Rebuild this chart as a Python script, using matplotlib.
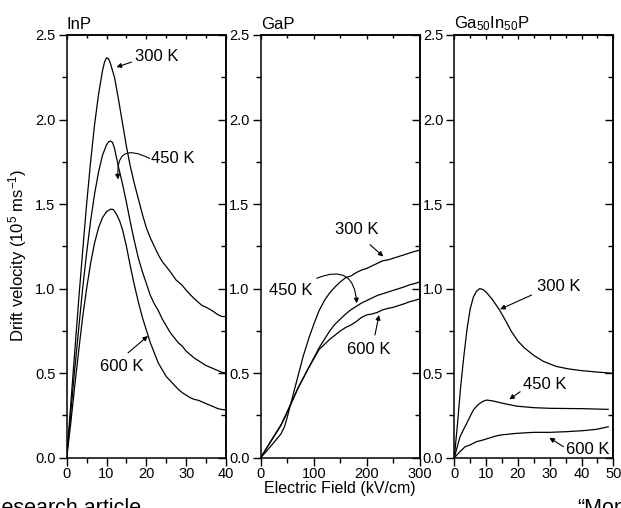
import numpy as np
import matplotlib
matplotlib.use("Agg")
import matplotlib.pyplot as plt
from matplotlib.ticker import MultipleLocator, FormatStrFormatter

plt.rcParams['font.family'] = ['Liberation Sans', 'DejaVu Sans']
plt.rcParams['mathtext.fontset'] = 'custom'
plt.rcParams['mathtext.rm'] = 'Liberation Sans'
plt.rcParams['mathtext.it'] = 'Liberation Sans:italic'
plt.rcParams['mathtext.bf'] = 'Liberation Sans:bold'

# InP, field in kV/cm, drift velocity in 1e5 m/s
inp_e_300 = [0, 1, 2, 3, 4, 5, 6, 7, 8, 9, 9.5, 10, 10.5, 11, 12, 13, 14, 15, 16, 17, 18, 19, 20,
             21, 22, 23, 24, 25, 26, 27.5, 29, 30, 31, 32.5, 34, 35, 36.5, 38, 39, 40]
inp_v_300 = [0, 0.31, 0.62, 0.93, 1.22, 1.5, 1.75, 1.97, 2.15, 2.29, 2.34, 2.365, 2.36, 2.33, 2.25,
             2.12, 1.98, 1.84, 1.72, 1.62, 1.53, 1.44, 1.36, 1.3, 1.25, 1.2, 1.16, 1.13, 1.1, 1.05,
             1.02, 0.99, 0.965, 0.93, 0.9, 0.89, 0.87, 0.845, 0.835, 0.835]
inp_e_450 = [0, 1, 2, 3, 4, 5, 6, 7, 8, 9, 10, 10.5, 11, 11.5, 12, 13, 14, 15, 16, 17, 18, 19, 20,
             21, 22, 23, 24, 25, 26, 27, 28, 29, 30, 31, 32, 33, 34, 35, 36, 37, 38, 39, 40]
inp_v_450 = [0, 0.26, 0.52, 0.76, 1.0, 1.21, 1.4, 1.56, 1.69, 1.79, 1.85, 1.868, 1.873, 1.865, 1.83,
             1.72, 1.62, 1.51, 1.39, 1.28, 1.18, 1.1, 1.03, 0.96, 0.91, 0.87, 0.82, 0.78, 0.74, 0.71,
             0.68, 0.66, 0.63, 0.61, 0.59, 0.575, 0.56, 0.545, 0.535, 0.525, 0.515, 0.505, 0.5]
inp_e_600 = [0, 1, 2, 3, 4, 5, 6, 7, 8, 9, 10, 11, 11.7, 12.5, 13.3, 14, 15, 16, 17, 18, 19, 20,
             21, 22, 23, 24, 25, 26, 27, 28, 29, 30, 31, 32, 33, 34, 35, 36, 37, 38, 39, 40]
inp_v_600 = [0, 0.2, 0.42, 0.63, 0.83, 1.0, 1.15, 1.27, 1.36, 1.42, 1.455, 1.47, 1.468, 1.44, 1.4,
             1.35, 1.25, 1.13, 1.02, 0.92, 0.83, 0.755, 0.68, 0.62, 0.56, 0.52, 0.48, 0.455, 0.43,
             0.405, 0.385, 0.37, 0.355, 0.345, 0.34, 0.33, 0.32, 0.31, 0.3, 0.29, 0.285, 0.282]

# GaP
gap_e = [0, 10, 20, 30, 38, 45, 50, 60, 70, 80, 90, 100, 110, 120, 130, 140, 150, 160, 170, 180,
         190, 200, 210, 220, 230, 240, 250, 260, 270, 280, 290, 300]
gap_v_300 = [0, 0.035, 0.072, 0.11, 0.14, 0.185, 0.24, 0.36, 0.48, 0.6, 0.7, 0.79, 0.87, 0.93,
             0.975, 1.01, 1.04, 1.065, 1.075, 1.095, 1.11, 1.12, 1.135, 1.15, 1.165, 1.17, 1.18,
             1.19, 1.2, 1.21, 1.22, 1.228]
gap_v_450 = [0, 0.05, 0.1, 0.15, 0.19, 0.235, 0.27, 0.34, 0.41, 0.47, 0.53, 0.59, 0.65, 0.7,
             0.75, 0.79, 0.82, 0.85, 0.875, 0.895, 0.915, 0.93, 0.945, 0.96, 0.97, 0.98, 0.99,
             1.0, 1.01, 1.022, 1.03, 1.04]
gap_v_600 = [0, 0.052, 0.103, 0.153, 0.193, 0.238, 0.272, 0.34, 0.41, 0.47, 0.53, 0.585, 0.64,
             0.67, 0.7, 0.725, 0.75, 0.77, 0.785, 0.805, 0.83, 0.845, 0.85, 0.86, 0.875, 0.883,
             0.89, 0.9, 0.91, 0.922, 0.93, 0.94]

# Ga50In50P
gainp_e_300 = [0, 1, 2, 3, 4, 5, 6, 7, 8, 9, 10, 12, 14, 16, 18, 20, 22, 25, 28, 32, 36, 40, 44, 48, 50]
gainp_v_300 = [0, 0.2, 0.42, 0.6, 0.76, 0.88, 0.95, 0.985, 1.0, 0.995, 0.98, 0.935, 0.88, 0.815,
               0.745, 0.69, 0.65, 0.605, 0.57, 0.54, 0.525, 0.515, 0.508, 0.502, 0.498]
gainp_e_450 = [0, 1, 1.8, 3, 3.9, 5, 6, 7, 8, 9, 10.2, 12.3, 15.4, 19.6, 24.9, 30.1, 35, 40.6, 44, 48.4]
gainp_v_450 = [0, 0.07, 0.124, 0.17, 0.203, 0.245, 0.282, 0.305, 0.321, 0.333, 0.341, 0.335,
               0.321, 0.305, 0.296, 0.292, 0.291, 0.29, 0.288, 0.286]
gainp_e_600 = [0, 1.8, 3.4, 4.9, 7.0, 9.1, 12.3, 14.4, 19.6, 24.9, 30.1, 35.3, 40.6, 44.8, 48.4]
gainp_v_600 = [0, 0.036, 0.065, 0.075, 0.095, 0.105, 0.124, 0.134, 0.144, 0.15, 0.15, 0.154,
               0.16, 0.168, 0.183]

titles = ["InP", "GaP", r"Ga$_{\mathregular{50}}$In$_{\mathregular{50}}$P"]
xlims = [40, 300, 50]
xmajor = [10, 100, 10]
xminor = [5, 50, 5]

series = [
    [(inp_e_300, inp_v_300), (inp_e_450, inp_v_450), (inp_e_600, inp_v_600)],
    [(gap_e, gap_v_300), (gap_e, gap_v_450), (gap_e, gap_v_600)],
    [(gainp_e_300, gainp_v_300), (gainp_e_450, gainp_v_450), (gainp_e_600, gainp_v_600)],
]

# label text position, arrow tail, arrow head, arc curvature
labels = [
    [("300 K", (22.7, 2.375), (16.3, 2.34), (12.5, 2.31), 0.0),
     ("450 K", (26.6, 1.77), (20.8, 1.77), (12.9, 1.646), 0.9),
     ("600 K", (13.9, 0.54), (15.4, 0.62), (20.4, 0.72), 0.0)],
    [("300 K", (180.8, 1.347), (205.8, 1.26), (230.9, 1.19), 0.0),
     ("450 K", (56.7, 0.99), (105.5, 1.061), (180.8, 0.913), -0.7),
     ("600 K", (204.3, 0.637), (215.2, 0.726), (222.8, 0.844), 0.0)],
    [("300 K", (32.7, 1.011), (24.3, 0.962), (14.4, 0.878), 0.0),
     ("450 K", (28.5, 0.43), (20.7, 0.39), (17.3, 0.345), 0.0),
     ("600 K", (41.9, 0.05), (34.3, 0.065), (29.9, 0.118), 0.0)],
]

fig = plt.figure(figsize=(6.21, 5.08), dpi=100)
lefts = [66.7, 260.7, 454.3]
widths = [159.3, 159.3, 159.0]
bottom = 1 - 457.7 / 508
height = (457.7 - 35.0) / 508

for i in range(3):
    ax = fig.add_axes([lefts[i] / 621, bottom, widths[i] / 621, height])
    for e, v in series[i]:
        ax.plot(e, v, color="black", lw=0.9)
    ax.set_xlim(0, xlims[i])
    ax.set_ylim(0, 2.5)
    ax.xaxis.set_major_locator(MultipleLocator(xmajor[i]))
    ax.xaxis.set_minor_locator(MultipleLocator(xminor[i]))
    ax.yaxis.set_major_locator(MultipleLocator(0.5))
    ax.yaxis.set_minor_locator(MultipleLocator(0.25))
    ax.yaxis.set_major_formatter(FormatStrFormatter("%.1f"))
    ax.tick_params(which="both", direction="out", labelsize=10.5, width=1.0, pad=2,
                   top=False, right=False)
    ax.tick_params(axis="x", which="both", pad=0.5)
    ax.tick_params(which="major", length=6)
    ax.tick_params(which="minor", length=3.5)
    # inward ticks on the top and right edges
    sec_x = ax.secondary_xaxis("top")
    sec_x.xaxis.set_major_locator(MultipleLocator(xmajor[i]))
    sec_x.xaxis.set_minor_locator(MultipleLocator(xminor[i]))
    sec_x.tick_params(which="both", direction="in", labeltop=False, width=1.0)
    sec_x.tick_params(which="major", length=3)
    sec_x.tick_params(which="minor", length=2)
    sec_y = ax.secondary_yaxis("right")
    sec_y.yaxis.set_major_locator(MultipleLocator(0.5))
    sec_y.yaxis.set_minor_locator(MultipleLocator(0.25))
    sec_y.tick_params(which="both", direction="in", labelright=False, width=1.0)
    sec_y.tick_params(which="major", length=6)
    sec_y.tick_params(which="minor", length=3.5)
    for s in list(ax.spines.values()) + [sec_x.spines["top"], sec_y.spines["right"]]:
        s.set_linewidth(1.1)

    ax.text(0, 1.015, titles[i], transform=ax.transAxes, ha="left", va="baseline", fontsize=12)

    for text, tpos, tail, head, rad in labels[i]:
        ax.text(tpos[0], tpos[1], text, ha="center", va="center", fontsize=12)
        ax.annotate("", xy=head, xytext=tail,
                    arrowprops=dict(arrowstyle="-|>", color="black", lw=0.8,
                                    mutation_scale=7, shrinkA=0, shrinkB=0,
                                    connectionstyle=f"arc3,rad={rad}"))

fig.text(0.548, 1 - 489 / 508, "Electric Field (kV/cm)", ha="center", va="center", fontsize=11.5)
fig.text(0.029, 1 - 255 / 508, r"Drift velocity (10$^{\mathregular{5}}$ ms$^{\mathregular{-1}}$)",
         ha="center", va="center", rotation=90, fontsize=12)

# page text running past the bottom edge
fig.text(-0.022, -0.012, "Research article", ha="left", va="baseline", fontsize=15.5)
fig.text(0.929, -0.012, "\u201cMonte", ha="left", va="baseline", fontsize=15.5)

fig.savefig("out.png", dpi=100)
